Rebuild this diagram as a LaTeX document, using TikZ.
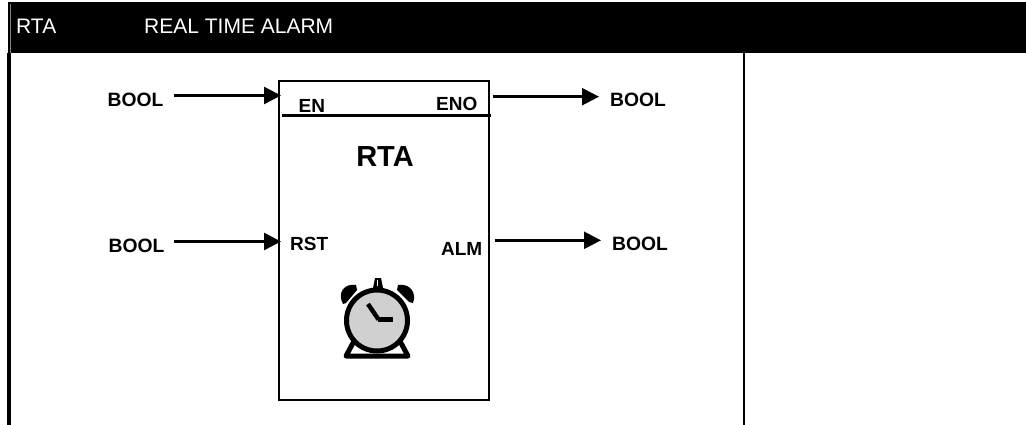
\documentclass[tikz,border=0pt]{standalone}
\usepackage{fontspec}
\setmainfont{Liberation Sans}
\usetikzlibrary{arrows.meta}
\tikzset{
  lab/.style={inner sep=0pt,font=\fontsize{19.3}{22}\selectfont\bfseries,text=black},
  pin/.style={inner sep=0pt,font=\fontsize{19}{22}\selectfont\bfseries,text=black},
  conn/.style={line width=2.4pt,-{Triangle[length=17pt,width=17pt]},shorten >=0pt},
  head/.style={inner sep=0pt,text=white,font=\fontsize{21}{24}\selectfont},
  rim/.style={line width=5pt,black}
}
\begin{document}
\begin{tikzpicture}[x=1pt,y=-1pt]
\useasboundingbox (0,0) rectangle (1026,425);
\fill[white] (0,0) rectangle (1026,425);
\fill[black] (8,2.5) rectangle (1026,53.5);
\fill[black!50] (9.6,4) rectangle (10.6,53.5);
\fill[black] (7,53.5) rectangle (11,425);
\fill[black] (743,53) rectangle (745,425);
\node[head,anchor=base west] (t1) at (16,34) {RTA};
\node[head,anchor=base west] (t2) at (144,34) {REAL TIME ALARM};
% block
\node[draw,line width=2pt,outer sep=0pt,minimum width=210pt,minimum height=319pt,inner sep=0pt,anchor=north west] (block) at (279,81) {};
\draw[line width=2.8pt] (282,115.3) -- (491,115.3);
\node[pin,anchor=base west] (en) at (298.5,112.3) {EN};
\node[pin,anchor=base east] (eno) at (477.5,110.8) {ENO};
\node[pin,anchor=base west] (rst) at (290,250.7) {RST};
\node[pin,anchor=base east] (alm) at (482.5,255) {ALM};
\node[inner sep=0pt,font=\fontsize{29}{32}\selectfont\bfseries,anchor=base] (title) at (385,166.7) {RTA};
% types
\node[lab,anchor=base west] (b1) at (107.5,106.7) {BOOL};
\node[lab,anchor=base west] (b2) at (108.5,252.3) {BOOL};
\node[lab,anchor=base west] (b3) at (610,106.7) {BOOL};
\node[lab,anchor=base west] (b4) at (612,251) {BOOL};
\coordinate (p1) at (174,95.5);
\coordinate (p2) at (174,241.5);
\coordinate (q1) at (281,95.5);
\coordinate (q2) at (281,241.5);
\coordinate (r1) at (493,96.7);
\coordinate (r2) at (495,240.3);
\coordinate (s1) at (599,96.7);
\coordinate (s2) at (601,240.3);
\draw[conn] (p1) -- (q1);
\draw[conn] (p2) -- (q2);
\draw[conn] (r1) -- (s1);
\draw[conn] (r2) -- (s2);
% clock
\fill (343,304) .. controls (337,293) and (344,283) .. (356,285) -- (357,290) -- (346,303) -- cycle;
\fill (398,285) .. controls (410,283) and (417,293) .. (413,303) -- (409,302) -- (397,290) -- cycle;
\fill (373,288) -- (375,278) -- (381,278) -- (383,288) -- cycle;
\fill[white] (377,280) rectangle (378.2,286);
\draw[rim,line join=round,line cap=round] (353,343) -- (346,356) -- (408,356) -- (401,343);
\draw[rim,fill={rgb,255:red,208;green,208;blue,208}] (377,320.5) circle[radius=30.5];
\draw[line width=4.5pt] (368,304) -- (378.5,319.5);
\draw[line width=5pt] (378,319.5) -- (393,319.5);
\end{tikzpicture}
\end{document}
